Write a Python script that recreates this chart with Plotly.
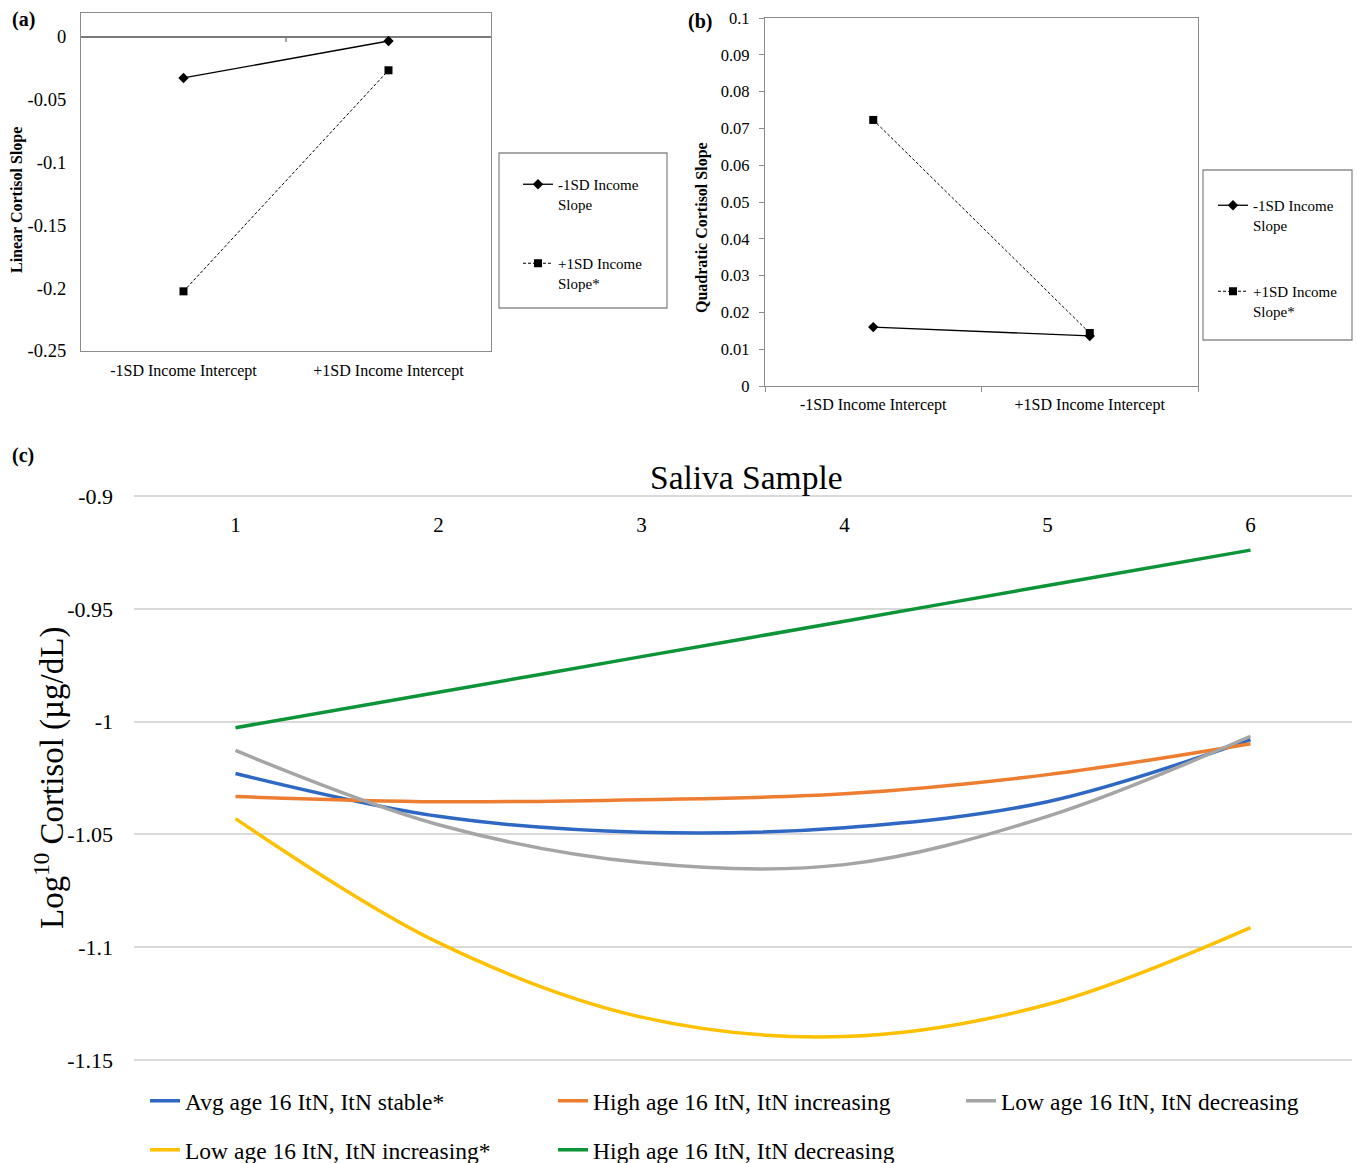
import plotly.graph_objects as go

W, H = 1357, 1163
def px(x): return x / W
def py(y): return 1 - y / H

FONT = "Liberation Serif"

# ---------------- data ----------------
categories_ab = ["-1SD Income Intercept", "+1SD Income Intercept"]
a_low_slope = [-0.0326, -0.0032]     # -1SD Income Slope
a_high_slope = [-0.2025, -0.0265]    # +1SD Income Slope*
b_low_slope = [0.0160, 0.0136]
b_high_slope = [0.0723, 0.0144]

a_ticks = [0, -0.05, -0.1, -0.15, -0.2, -0.25]
a_ticklabels = ["0", "-0.05", "-0.1", "-0.15", "-0.2", "-0.25"]
b_ticks = [0, 0.01, 0.02, 0.03, 0.04, 0.05, 0.06, 0.07, 0.08, 0.09, 0.1]
b_ticklabels = ["0", "0.01", "0.02", "0.03", "0.04", "0.05", "0.06", "0.07", "0.08", "0.09", "0.1"]

samples = ["1", "2", "3", "4", "5", "6"]
avg_stable = [-1.0230, -1.0420, -1.0490, -1.0470, -1.0355, -1.0080]
high_increasing = [-1.0332, -1.0355, -1.0346, -1.0320, -1.0235, -1.0098]
low_decreasing = [-1.0128, -1.0457, -1.0625, -1.0634, -1.0420, -1.0065]
low_increasing = [-1.0430, -1.0980, -1.1310, -1.1396, -1.1254, -1.0913]
high_decreasing = [-1.0027, -0.9870, -0.9712, -0.9555, -0.9397, -0.9240]

c_ticks = [-0.9, -0.95, -1.0, -1.05, -1.1, -1.15]
c_ticklabels = ["-0.9", "-0.95", "-1", "-1.05", "-1.1", "-1.15"]

series_c = [
    ("Avg age 16 ItN, ItN stable*", avg_stable, "#2E68C3", "legend3"),
    ("High age 16 ItN, ItN increasing", high_increasing, "#ED7D31", "legend3"),
    ("Low age 16 ItN, ItN decreasing", low_decreasing, "#A5A5A5", "legend3"),
    ("Low age 16 ItN, ItN increasing*", low_increasing, "#FFC000", "legend4"),
    ("High age 16 ItN, ItN decreasing", high_decreasing, "#0E9438", "legend4"),
]

fig = go.Figure()

# ---------------- panel (a) ----------------
fig.add_trace(go.Scatter(
    x=categories_ab, y=a_low_slope, xaxis="x", yaxis="y",
    mode="lines+markers", line=dict(color="black", width=1.3),
    marker=dict(symbol="diamond", size=8, color="black"),
    name="-1SD Income<br>Slope", legend="legend", legendgroup="a1"))
fig.add_trace(go.Scatter(
    x=categories_ab, y=a_high_slope, xaxis="x", yaxis="y",
    mode="lines+markers", line=dict(color="black", width=1, dash="3px,2px"),
    marker=dict(symbol="square", size=8, color="black"),
    name="+1SD Income<br>Slope*", legend="legend", legendgroup="a2"))

# ---------------- panel (b) ----------------
fig.add_trace(go.Scatter(
    x=categories_ab, y=b_low_slope, xaxis="x2", yaxis="y2",
    mode="lines+markers", line=dict(color="black", width=1.3),
    marker=dict(symbol="diamond", size=8, color="black"),
    name="-1SD Income<br>Slope", legend="legend2", legendgroup="b1"))
fig.add_trace(go.Scatter(
    x=categories_ab, y=b_high_slope, xaxis="x2", yaxis="y2",
    mode="lines+markers", line=dict(color="black", width=1, dash="3px,2px"),
    marker=dict(symbol="square", size=8, color="black"),
    name="+1SD Income<br>Slope*", legend="legend2", legendgroup="b2"))

# ---------------- panel (c) ----------------
for name, vals, col, leg in series_c:
    fig.add_trace(go.Scatter(
        x=samples, y=vals, xaxis="x3", yaxis="y3", mode="lines",
        line=dict(color=col, width=3.5, shape="spline", smoothing=1),
        name=name, legend=leg))

axis_gray = "#8c8c8c"
pad = 2.26  # px padding so edge gridlines are drawn
fig.update_layout(
    width=W, height=H, margin=dict(l=0, r=0, t=0, b=0, autoexpand=False),
    paper_bgcolor="white", plot_bgcolor="white",
    font=dict(family=FONT, color="black"),
    xaxis=dict(domain=[px(81), px(491)], anchor="y", type="category",
               range=[-0.5, 1.5], showline=True, mirror=True, linecolor=axis_gray,
               linewidth=1.3, showgrid=False, ticks="", tickfont=dict(size=16),
               ticklabelstandoff=5),
    yaxis=dict(domain=[py(351), py(13)], anchor="x", range=[-0.25, 0.0191],
               tickvals=a_ticks, ticktext=a_ticklabels, showline=True, mirror=True,
               linecolor=axis_gray, linewidth=1.3, showgrid=False, zeroline=True,
               zerolinecolor="#7a7a7a", zerolinewidth=1.5, ticks="",
               tickfont=dict(size=18.5), ticklabelstandoff=10),
    xaxis2=dict(domain=[px(765), px(1198)], anchor="y2", type="category",
                range=[-0.5, 1.5], showline=True, mirror=True, linecolor=axis_gray,
                linewidth=1.3, showgrid=False, ticks="outside", tickson="boundaries",
                ticklen=5, tickcolor=axis_gray, tickfont=dict(size=16),
                ticklabelstandoff=4),
    yaxis2=dict(domain=[py(386), py(18)], anchor="x2", range=[0, 0.1],
                tickvals=b_ticks, ticktext=b_ticklabels, showline=True, mirror=True,
                linecolor=axis_gray, linewidth=1.3, showgrid=False, zeroline=False,
                ticks="outside", ticklen=5, tickcolor=axis_gray,
                tickfont=dict(size=16.5), ticklabelstandoff=6),
    xaxis3=dict(domain=[px(134), px(1352)], anchor="free", position=py(510),
                type="category", range=[-0.5, 5.5], side="bottom",
                showline=False, showgrid=False, zeroline=False, ticks="",
                tickfont=dict(size=21)),
    yaxis3=dict(domain=[py(1060 + pad), py(496 - pad)], anchor="x3",
                range=[-1.15 - pad * 0.05 / 112.8, -0.9 + pad * 0.05 / 112.8],
                tickvals=c_ticks, ticktext=c_ticklabels, showline=False,
                showgrid=True, gridcolor="#d9d9d9", gridwidth=1.5, zeroline=False,
                ticks="", tickfont=dict(size=22), ticklabelstandoff=20),
    legend=dict(x=px(518), y=py(168), xanchor="left", yanchor="top",
                bgcolor="rgba(0,0,0,0)", borderwidth=0, font=dict(size=15),
                tracegroupgap=37, valign="top", traceorder="grouped"),
    legend2=dict(x=px(1213), y=py(189), xanchor="left", yanchor="top",
                 bgcolor="rgba(0,0,0,0)", borderwidth=0, font=dict(size=15),
                 tracegroupgap=44, valign="top", traceorder="grouped"),
    legend3=dict(x=px(145), y=py(1101), xanchor="left", yanchor="middle",
                 orientation="h", entrywidth=363, entrywidthmode="pixels",
                 bgcolor="rgba(0,0,0,0)", borderwidth=0, font=dict(size=23.5)),
    legend4=dict(x=px(145), y=py(1150), xanchor="left", yanchor="middle",
                 orientation="h", entrywidth=363, entrywidthmode="pixels",
                 bgcolor="rgba(0,0,0,0)", borderwidth=0, font=dict(size=23.5)),
)

shapes = [
    dict(type="rect", xref="paper", yref="paper", x0=px(499), x1=px(667),
         y0=py(308), y1=py(153), line=dict(color=axis_gray, width=1.3)),
    dict(type="rect", xref="paper", yref="paper", x0=px(1203), x1=px(1352),
         y0=py(340), y1=py(170), line=dict(color=axis_gray, width=1.3)),
    dict(type="line", xref="x", yref="y", x0=0.5, x1=0.5, y0=0, y1=-0.004,
         line=dict(color="#7a7a7a", width=1.3)),
]
fig.update_layout(shapes=shapes)

annotations = [
    dict(text="<b>(a)</b>", x=px(10), y=py(20), xanchor="left", yanchor="middle",
         font=dict(size=20)),
    dict(text="<b>(b)</b>", x=px(686), y=py(22), xanchor="left", yanchor="middle",
         font=dict(size=20)),
    dict(text="<b>(c)</b>", x=px(10), y=py(455), xanchor="left", yanchor="middle",
         font=dict(size=20)),
    dict(text="<b>Linear Cortisol Slope</b>", x=px(17), y=py(200), textangle=-90,
         xanchor="center", yanchor="middle", font=dict(size=16)),
    dict(text="<b>Quadratic Cortisol Slope</b>", x=px(702), y=py(228), textangle=-90,
         xanchor="center", yanchor="middle", font=dict(size=16)),
    dict(text="Saliva Sample", x=px(747), y=py(478), xanchor="center",
         yanchor="middle", font=dict(size=33.5)),
    dict(text="Log<sup>10</sup> Cortisol (µg/dL)", x=px(49), y=py(778), textangle=-90,
         xanchor="center", yanchor="middle", font=dict(size=33)),
]
for a in annotations:
    a.update(xref="paper", yref="paper", showarrow=False)
fig.update_layout(annotations=annotations)

fig.write_html(
    "out.html",
    config={"displayModeBar": False},
    post_script="document.body.style.margin='0';document.body.style.overflow='hidden';",
)
